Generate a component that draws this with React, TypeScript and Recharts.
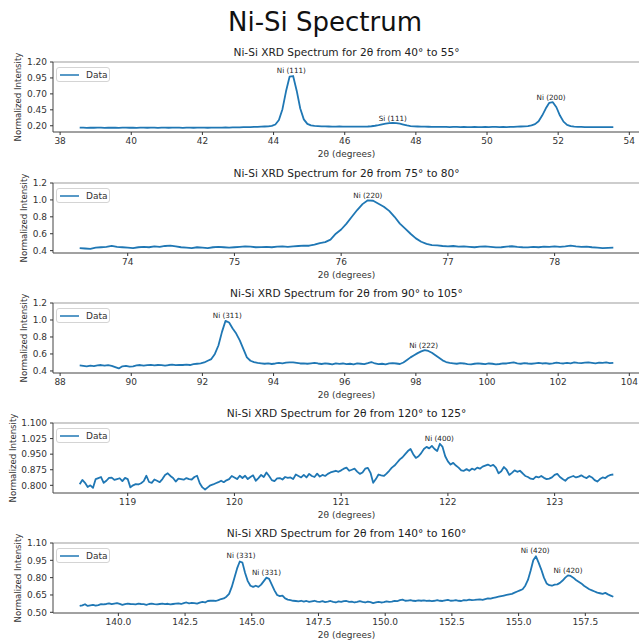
import React from 'react';
import { LineChart, Line, XAxis, YAxis, ReferenceDot, ReferenceLine, Legend } from 'recharts';

// ---------- DATA ----------
const MAIN_TITLE = 'Ni-Si Spectrum';
const X_LABEL = '2θ (degrees)';
const Y_LABEL = 'Normalized Intensity';
const SERIES_NAME = 'Data';

// Panel 1: 38.55 .. 53.55, step 0.1
const P1_TITLE = 'Ni-Si XRD Spectrum for 2θ from 40° to 55°';
const P1_START = 38.55;
const P1_STEP = 0.1;
const P1_VALUES = [
  0.172, 0.17, 0.168, 0.171, 0.169, 0.17, 0.172, 0.168, 0.17, 0.169,
  0.171, 0.168, 0.17, 0.172, 0.169, 0.17, 0.168, 0.171, 0.17, 0.169,
  0.17, 0.172, 0.168, 0.17, 0.171, 0.169, 0.17, 0.172, 0.17, 0.168,
  0.171, 0.17, 0.169, 0.172, 0.17, 0.171, 0.169, 0.17, 0.172, 0.17,
  0.171, 0.173, 0.172, 0.174, 0.176, 0.175, 0.178, 0.18, 0.179, 0.182,
  0.183, 0.185, 0.188, 0.19, 0.198, 0.22, 0.29, 0.46, 0.74, 0.97,
  0.98, 0.75, 0.47, 0.3, 0.23, 0.205, 0.198, 0.194, 0.19, 0.19,
  0.188, 0.187, 0.186, 0.188, 0.185, 0.186, 0.185, 0.187, 0.185, 0.186,
  0.187, 0.188, 0.192, 0.2, 0.21, 0.222, 0.232, 0.24, 0.245, 0.242,
  0.232, 0.218, 0.205, 0.195, 0.19, 0.188, 0.186, 0.185, 0.184, 0.183,
  0.182, 0.183, 0.181, 0.182, 0.18, 0.181, 0.182, 0.18, 0.181, 0.18,
  0.18, 0.181, 0.179, 0.18, 0.182, 0.18, 0.181, 0.183, 0.18, 0.181,
  0.18, 0.182, 0.183, 0.185, 0.188, 0.19, 0.195, 0.205, 0.225, 0.27,
  0.36, 0.47, 0.56, 0.57, 0.49, 0.36, 0.265, 0.215, 0.195, 0.186,
  0.183, 0.181, 0.18, 0.179, 0.18, 0.178, 0.179, 0.18, 0.178, 0.177,
  0.178,
];
const P1_X_TICKS = [38, 40, 42, 44, 46, 48, 50, 52, 54];
const P1_Y_TICKS = [0.2, 0.45, 0.7, 0.95, 1.2];
const P1_PEAK_LABELS = ['Ni (111)', 'Si (111)', 'Ni (200)'];
const P1_PEAK_X = [44.5, 47.35, 51.8];
const P1_PEAK_Y = [0.99, 0.24, 0.57];

// Panel 2: 73.55 .. 78.55, step 0.05
const P2_TITLE = 'Ni-Si XRD Spectrum for 2θ from 75° to 80°';
const P2_START = 73.55;
const P2_STEP = 0.05;
const P2_VALUES = [
  0.43, 0.425, 0.42, 0.435, 0.44, 0.445, 0.455, 0.445, 0.44, 0.435,
  0.43, 0.44, 0.445, 0.44, 0.45, 0.445, 0.455, 0.46, 0.45, 0.44,
  0.435, 0.43, 0.44, 0.435, 0.43, 0.44, 0.445, 0.44, 0.435, 0.44,
  0.445, 0.45, 0.448, 0.44, 0.442, 0.445, 0.44, 0.448, 0.45, 0.445,
  0.45, 0.455, 0.46, 0.458, 0.47, 0.49, 0.5, 0.53, 0.6, 0.65,
  0.72, 0.8, 0.88, 0.95, 0.995, 0.99, 0.955, 0.92, 0.87, 0.8,
  0.72, 0.66, 0.6, 0.545, 0.505, 0.48, 0.465, 0.462, 0.455, 0.45,
  0.455, 0.448, 0.45, 0.445, 0.44, 0.448, 0.45, 0.445, 0.438, 0.44,
  0.448, 0.452, 0.445, 0.44, 0.438, 0.445, 0.44, 0.448, 0.445, 0.45,
  0.445, 0.45, 0.458, 0.45, 0.445, 0.448, 0.44, 0.435, 0.43, 0.432,
  0.435,
];
const P2_X_TICKS = [74, 75, 76, 77, 78];
const P2_Y_TICKS = [0.4, 0.6, 0.8, 1.0, 1.2];
const P2_PEAK_LABELS = ['Ni (220)'];
const P2_PEAK_X = [76.25];
const P2_PEAK_Y = [0.995];

// Panel 3: 88.55 .. 103.55, step 0.1
const P3_TITLE = 'Ni-Si XRD Spectrum for 2θ from 90° to 105°';
const P3_START = 88.55;
const P3_STEP = 0.1;
const P3_VALUES = [
  0.465, 0.46, 0.455, 0.462, 0.458, 0.465, 0.47, 0.462, 0.468, 0.46,
  0.445, 0.43, 0.455, 0.46, 0.45, 0.455, 0.465, 0.47, 0.462, 0.468,
  0.472, 0.465, 0.47, 0.468, 0.462, 0.47, 0.475, 0.468, 0.472, 0.47,
  0.475, 0.47, 0.48, 0.485, 0.49, 0.5, 0.52, 0.54, 0.6, 0.7,
  0.86, 0.99, 0.97, 0.9, 0.84, 0.76, 0.66, 0.56, 0.52, 0.505,
  0.495, 0.49, 0.485, 0.49, 0.482, 0.488, 0.495, 0.49, 0.498, 0.5,
  0.502, 0.495, 0.488, 0.49, 0.485, 0.49, 0.495, 0.488, 0.482, 0.49,
  0.485, 0.478, 0.49, 0.484, 0.488, 0.48, 0.485, 0.478, 0.49, 0.485,
  0.48, 0.492, 0.505, 0.488, 0.48, 0.485, 0.478, 0.49, 0.492, 0.488,
  0.482, 0.5, 0.53, 0.56, 0.585, 0.61, 0.63, 0.645, 0.635, 0.615,
  0.585, 0.555, 0.525, 0.505, 0.495, 0.49, 0.485, 0.492, 0.488, 0.48,
  0.478, 0.485, 0.49, 0.485, 0.48, 0.488, 0.485, 0.478, 0.482, 0.49,
  0.488, 0.495, 0.5, 0.49, 0.485, 0.492, 0.488, 0.485, 0.49, 0.495,
  0.488, 0.492, 0.485, 0.49, 0.498, 0.492, 0.488, 0.495, 0.49, 0.5,
  0.495, 0.492, 0.498, 0.5, 0.495, 0.49, 0.498, 0.495, 0.5, 0.492,
  0.495,
];
const P3_X_TICKS = [88, 90, 92, 94, 96, 98, 100, 102, 104];
const P3_Y_TICKS = [0.4, 0.6, 0.8, 1.0, 1.2];
const P3_PEAK_LABELS = ['Ni (311)', 'Ni (222)'];
const P3_PEAK_X = [92.7, 98.22];
const P3_PEAK_Y = [0.99, 0.645];

// Panel 4: 118.55 .. 123.55, step 0.025
const P4_TITLE = 'Ni-Si XRD Spectrum for 2θ from 120° to 125°';
const P4_START = 118.55;
const P4_STEP = 0.025;
const P4_VALUES = [
  0.805, 0.826, 0.812, 0.792, 0.8, 0.788, 0.83, 0.835,
  0.84, 0.812, 0.822, 0.836, 0.837, 0.826, 0.83, 0.834,
  0.82, 0.836, 0.83, 0.79, 0.8, 0.806, 0.804, 0.81,
  0.82, 0.846, 0.816, 0.812, 0.828, 0.822, 0.815, 0.83,
  0.85, 0.858, 0.845, 0.835, 0.818, 0.832, 0.83, 0.827,
  0.835, 0.83, 0.828, 0.84, 0.846, 0.81, 0.79, 0.78,
  0.79, 0.8, 0.804, 0.81, 0.815, 0.822, 0.815, 0.824,
  0.83, 0.845, 0.838, 0.83, 0.846, 0.835, 0.846, 0.83,
  0.84, 0.848, 0.822, 0.835, 0.85, 0.84, 0.862, 0.845,
  0.825, 0.82, 0.833, 0.835, 0.828, 0.84, 0.836, 0.838,
  0.83, 0.852, 0.845, 0.838, 0.85, 0.838, 0.855, 0.845,
  0.84, 0.856, 0.842, 0.85, 0.845, 0.855, 0.862, 0.866,
  0.87, 0.865, 0.872, 0.88, 0.885, 0.87, 0.875, 0.88,
  0.866, 0.855, 0.862, 0.88, 0.884, 0.86, 0.812, 0.83,
  0.852, 0.848, 0.845, 0.856, 0.87, 0.885, 0.895, 0.91,
  0.925, 0.935, 0.95, 0.965, 0.975, 0.95, 0.932, 0.94,
  0.955, 0.975, 0.985, 0.978, 0.99, 0.975, 0.965, 1.0,
  0.985, 0.94, 0.915, 0.9, 0.908, 0.895, 0.885, 0.872,
  0.87, 0.878, 0.87, 0.88, 0.875, 0.885, 0.88, 0.89,
  0.895, 0.9, 0.893, 0.898, 0.885, 0.858, 0.868, 0.888,
  0.875, 0.85, 0.86, 0.872, 0.865, 0.87, 0.858, 0.845,
  0.84, 0.832, 0.83, 0.842, 0.838, 0.845, 0.836, 0.83,
  0.832, 0.838, 0.85, 0.855, 0.84, 0.83, 0.822, 0.835,
  0.84, 0.845, 0.838, 0.842, 0.848, 0.84, 0.835, 0.845,
  0.838, 0.825, 0.818, 0.83, 0.838, 0.835, 0.845, 0.85,
  0.852,
];
const P4_X_TICKS = [119, 120, 121, 122, 123];
const P4_Y_TICKS = [0.8, 0.875, 0.95, 1.025, 1.1];
const P4_PEAK_LABELS = ['Ni (400)'];
const P4_PEAK_X = [121.92];
const P4_PEAK_Y = [1.0];

// Panel 5: 138.55 .. 158.55, step 0.1
const P5_TITLE = 'Ni-Si XRD Spectrum for 2θ from 140° to 160°';
const P5_START = 138.55;
const P5_STEP = 0.1;
const P5_VALUES = [
  0.555, 0.56, 0.57, 0.555, 0.56, 0.565, 0.558, 0.562, 0.57, 0.568,
  0.572, 0.578, 0.57, 0.575, 0.58, 0.573, 0.565, 0.57, 0.575, 0.572,
  0.57, 0.568, 0.575, 0.572, 0.57, 0.565, 0.572, 0.575, 0.57, 0.568,
  0.572, 0.575, 0.57, 0.574, 0.568, 0.572, 0.575, 0.578, 0.572, 0.58,
  0.585, 0.578, 0.582, 0.58, 0.575, 0.583, 0.59, 0.585, 0.598, 0.6,
  0.602, 0.598, 0.605, 0.615, 0.62, 0.635, 0.66, 0.72, 0.8, 0.88,
  0.94, 0.93, 0.84, 0.77, 0.73, 0.72, 0.73, 0.72, 0.74, 0.77,
  0.8, 0.79, 0.74, 0.69, 0.65, 0.64, 0.645, 0.62, 0.61, 0.605,
  0.6, 0.598, 0.595, 0.6, 0.592, 0.598, 0.59, 0.595, 0.6, 0.592,
  0.59, 0.596, 0.588, 0.592, 0.598, 0.59, 0.585, 0.594, 0.59, 0.596,
  0.598, 0.59, 0.592, 0.585, 0.59, 0.596, 0.59, 0.585, 0.592, 0.588,
  0.58, 0.585, 0.59, 0.585, 0.588, 0.595, 0.59, 0.592, 0.598, 0.596,
  0.605, 0.61, 0.6, 0.602, 0.606, 0.6, 0.598, 0.604, 0.6, 0.603,
  0.598, 0.602, 0.596, 0.6, 0.605, 0.6, 0.598, 0.603, 0.608, 0.6,
  0.602, 0.605, 0.6, 0.598, 0.606, 0.603, 0.61, 0.605, 0.607, 0.61,
  0.612, 0.608, 0.615, 0.62, 0.618, 0.625, 0.63, 0.635, 0.64, 0.645,
  0.65, 0.655, 0.66, 0.67, 0.68, 0.69, 0.7, 0.73, 0.78, 0.86,
  0.95, 0.985, 0.93, 0.87, 0.8, 0.75, 0.735, 0.73, 0.74, 0.742,
  0.755, 0.775, 0.8, 0.82, 0.815, 0.8, 0.78, 0.765, 0.75, 0.73,
  0.715, 0.7, 0.69, 0.68, 0.67, 0.665, 0.66, 0.668, 0.655, 0.645,
  0.635,
];
const P5_X_TICKS = [140, 142.5, 145, 147.5, 150, 152.5, 155, 157.5];
const P5_Y_TICKS = [0.5, 0.65, 0.8, 0.95, 1.1];
const P5_PEAK_LABELS = ['Ni (331)', 'Ni (331)', 'Ni (420)', 'Ni (420)'];
const P5_PEAK_X = [144.6, 145.55, 155.62, 156.85];
const P5_PEAK_Y = [0.945, 0.8, 0.99, 0.82];

// ---------- LAYOUT / STYLE ----------
const FONT = '"DejaVu Sans", sans-serif';
const LINE_COLOR = '#1f77b4';
const TEXT_COLOR = '#333';
const CHART_W = 700;
const CHART_H = 120;
const MARGIN_TOP = 20;

const buildData = (start: number, step: number, values: number[]) =>
  values.map((y, i) => ({ x: +(start + i * step).toFixed(4), y }));

const PANELS = [
  {
    title: P1_TITLE, data: buildData(P1_START, P1_STEP, P1_VALUES),
    xDomain: [37.8, 54.3], xTicks: P1_X_TICKS, xDec: 0,
    yDomain: [0.102, 1.2], yTicks: P1_Y_TICKS, yDec: 2,
    labels: P1_PEAK_LABELS, px: P1_PEAK_X, py: P1_PEAK_Y,
    plotTop: 62, ylabOffset: 10,
  },
  {
    title: P2_TITLE, data: buildData(P2_START, P2_STEP, P2_VALUES),
    xDomain: [73.3, 78.8], xTicks: P2_X_TICKS, xDec: 0,
    yDomain: [0.372, 1.2], yTicks: P2_Y_TICKS, yDec: 1,
    labels: P2_PEAK_LABELS, px: P2_PEAK_X, py: P2_PEAK_Y,
    plotTop: 183, ylabOffset: 15.5,
  },
  {
    title: P3_TITLE, data: buildData(P3_START, P3_STEP, P3_VALUES),
    xDomain: [87.8, 104.3], xTicks: P3_X_TICKS, xDec: 0,
    yDomain: [0.376, 1.2], yTicks: P3_Y_TICKS, yDec: 1,
    labels: P3_PEAK_LABELS, px: P3_PEAK_X, py: P3_PEAK_Y,
    plotTop: 303, ylabOffset: 15.5,
  },
  {
    title: P4_TITLE, data: buildData(P4_START, P4_STEP, P4_VALUES),
    xDomain: [118.3, 123.8], xTicks: P4_X_TICKS, xDec: 0,
    yDomain: [0.763, 1.1], yTicks: P4_Y_TICKS, yDec: 3,
    labels: P4_PEAK_LABELS, px: P4_PEAK_X, py: P4_PEAK_Y,
    plotTop: 423, ylabOffset: 4.5,
  },
  {
    title: P5_TITLE, data: buildData(P5_START, P5_STEP, P5_VALUES),
    xDomain: [137.55, 159.55], xTicks: P5_X_TICKS, xDec: 1,
    yDomain: [0.494, 1.1], yTicks: P5_Y_TICKS, yDec: 2,
    labels: P5_PEAK_LABELS, px: P5_PEAK_X, py: P5_PEAK_Y,
    plotTop: 543, ylabOffset: 10,
  },
];

const LegendBox = () => (
  <div
    style={{
      boxSizing: 'border-box', width: 54, height: 15, display: 'flex', alignItems: 'center',
      border: '1px solid #d4d4d4', borderRadius: 3, background: 'rgba(255,255,255,0.85)',
      paddingLeft: 3, fontFamily: FONT,
    }}
  >
    <svg width={19} height={6} style={{ display: 'block' }}>
      <line x1={0} y1={3} x2={19} y2={3} stroke={LINE_COLOR} strokeWidth={1.5} />
    </svg>
    <span style={{ fontSize: 9, color: TEXT_COLOR, marginLeft: 7, lineHeight: '10px' }}>{SERIES_NAME}</span>
  </div>
);

function Panel({ p }: { p: any }) {
  const chartTop = p.plotTop - MARGIN_TOP;
  return (
    <>
      <div
        style={{
          position: 'absolute', left: 53, width: 587, top: p.plotTop - 15, textAlign: 'center',
          fontSize: 10.6, lineHeight: '10.6px', color: '#222', whiteSpace: 'nowrap',
        }}
      >
        {p.title}
      </div>
      <div style={{ position: 'absolute', left: 0, top: chartTop }}>
        <LineChart
          width={CHART_W}
          height={CHART_H}
          data={p.data}
          margin={{ top: MARGIN_TOP, right: CHART_W - 640, bottom: 0, left: 8 }}
        >
          <XAxis
            dataKey="x"
            type="number"
            domain={p.xDomain}
            ticks={p.xTicks}
            interval={0}
            allowDataOverflow
            height={30}
            tickFormatter={(v: number) => v.toFixed(p.xDec)}
            tick={{ fontSize: 9, fill: TEXT_COLOR }}
            tickSize={3}
            tickMargin={3}
            tickLine={{ stroke: '#333' }}
            axisLine={{ stroke: '#444' }}
            label={{ value: X_LABEL, position: 'insideBottom', offset: 5.5, fontSize: 9, fill: TEXT_COLOR }}
          />
          <YAxis
            type="number"
            domain={p.yDomain}
            ticks={p.yTicks}
            interval={0}
            allowDataOverflow
            width={45}
            tickFormatter={(v: number) => v.toFixed(p.yDec)}
            tick={{ fontSize: 9, fill: TEXT_COLOR }}
            tickSize={3}
            tickMargin={3}
            tickLine={{ stroke: '#333' }}
            axisLine={{ stroke: '#444' }}
            label={{
              value: Y_LABEL, angle: -90, position: 'insideLeft', offset: p.ylabOffset,
              fontSize: 8.6, fill: TEXT_COLOR, style: { textAnchor: 'middle' },
            }}
          />
          <ReferenceLine y={p.yDomain[1]} stroke="#bdbdbd" strokeWidth={1.5} />
          <Legend
            layout="horizontal"
            verticalAlign="middle"
            align="center"
            wrapperStyle={{ left: 56, top: 25, width: 'auto', height: 'auto' }}
            content={() => <LegendBox />}
          />
          <Line
            type="linear"
            dataKey="y"
            name={SERIES_NAME}
            stroke={LINE_COLOR}
            strokeWidth={1.8}
            strokeLinejoin="round"
            dot={false}
            activeDot={false}
            isAnimationActive={false}
          />
          {p.labels.map((lab: string, i: number) => (
            <ReferenceDot
              key={i}
              x={p.px[i]}
              y={p.py[i]}
              r={0.5}
              fill="none"
              stroke="none"
              label={{ value: lab, position: 'top', offset: 2, fontSize: 7.2, fill: '#222' }}
            />
          ))}
        </LineChart>
      </div>
    </>
  );
}

export default function App() {
  return (
    <div
      style={{
        position: 'absolute', left: 0, top: 0, width: 639, height: 642, overflow: 'hidden',
        background: '#fff', fontFamily: FONT,
      }}
    >
      <div
        style={{
          position: 'absolute', left: 0, width: 650, top: 9, textAlign: 'center',
          fontSize: 26, lineHeight: '26px', color: '#111',
        }}
      >
        {MAIN_TITLE}
      </div>
      {PANELS.map((p, i) => (
        <Panel key={i} p={p} />
      ))}
    </div>
  );
}
